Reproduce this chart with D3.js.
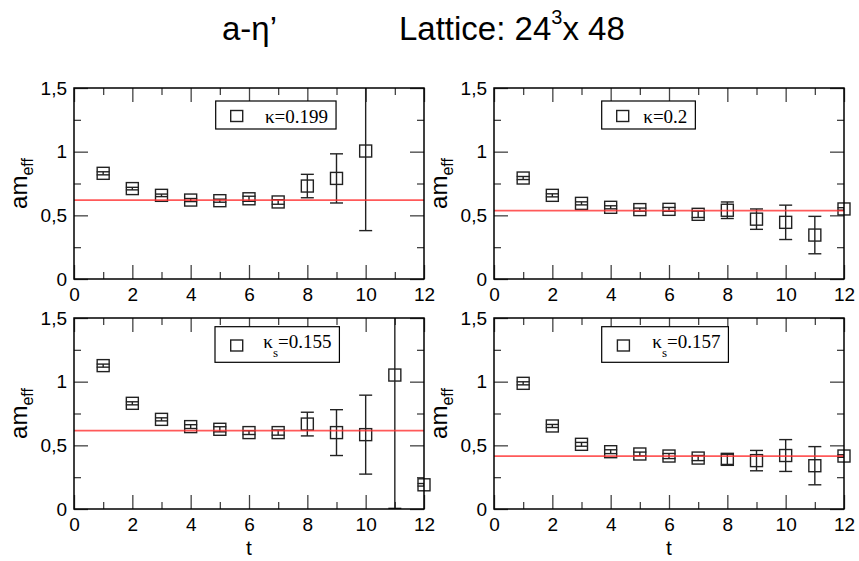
<!DOCTYPE html>
<html>
<head>
<meta charset="utf-8">
<script src="https://cdn.jsdelivr.net/npm/d3@7"></script>
<style>
  body { margin: 0; background: #fff; }
  svg { display: block; }
  .tick text { font-family: "Liberation Sans", Arial, sans-serif; font-size: 19px; fill: #000; }
  .tick line { stroke: #444; stroke-width: 1.3; }
</style>
</head>
<body>
<div id="chart"></div>
<script>
// effective mass vs t, four kappa values
const tValues = [1, 2, 3, 4, 5, 6, 7, 8, 9, 10, 11, 12];

const mK199 = [0.83, 0.71, 0.657, 0.62, 0.615, 0.63, 0.605, 0.73, 0.79, 1.005];
const eK199 = [0.012, 0.01, 0.01, 0.012, 0.012, 0.02, 0.018, 0.092, 0.193, 0.625];

const mK200 = [0.793, 0.657, 0.594, 0.563, 0.545, 0.547, 0.508, 0.54, 0.47, 0.445, 0.345, 0.55];
const eK200 = [0.012, 0.012, 0.012, 0.012, 0.012, 0.015, 0.025, 0.065, 0.08, 0.135, 0.147, 0.01];

const mKs155 = [1.126, 0.83, 0.704, 0.647, 0.626, 0.6, 0.6, 0.667, 0.6, 0.584, 1.052, 0.19];
const eKs155 = [0.012, 0.012, 0.012, 0.015, 0.02, 0.015, 0.02, 0.093, 0.18, 0.31, 1.047, 0.01];

const mKs157 = [0.987, 0.652, 0.508, 0.45, 0.432, 0.416, 0.4, 0.39, 0.38, 0.42, 0.34, 0.416];
const eKs157 = [0.012, 0.012, 0.015, 0.015, 0.015, 0.02, 0.02, 0.04, 0.08, 0.125, 0.15, 0.01];

const fitValues = [0.62, 0.537, 0.615, 0.416];
const legendKappa = ["κ", "κ", "κ", "κ"];
const legendSub = ["", "", "s", "s"];
const legendValue = ["=0.199", "=0.2", "=0.155", "=0.157"];

const xMajor = [0, 2, 4, 6, 8, 10, 12];
const xMinor = [1, 3, 5, 7, 9, 11];
const yMajor = [0, 0.5, 1, 1.5];
const yMinor = [0.25, 0.75, 1.25];

const W = 859, H = 561;
const plotW = 350, plotH = 191;

const panels = [
  { m: mK199, e: eK199, left: 74, top: 88, showT: false, box: [141.7, 13, 28], sym: 21, txt: 191 },
  { m: mK200, e: eK200, left: 494, top: 88, showT: false, box: [107.7, 13, 28], sym: 21, txt: 149.3 },
  { m: mKs155, e: eKs155, left: 74, top: 318, showT: true, box: [141, 8.7, 35.6], sym: 21.7, txt: 189.3 },
  { m: mKs157, e: eKs157, left: 494, top: 318, showT: true, box: [107.7, 8.7, 35.6], sym: 21.7, txt: 158.3 }
];

const svg = d3.select("#chart").append("svg")
  .attr("width", W)
  .attr("height", H);

// title
const title = svg.append("g")
  .style("font-family", "'Liberation Sans', Arial, sans-serif")
  .style("font-size", "33px");
title.append("text").attr("x", 222).attr("y", 40).text("a-η’");
const lat = title.append("text").attr("x", 399).attr("y", 40);
lat.append("tspan").text("Lattice: 24");
lat.append("tspan").attr("dy", -16).style("font-size", "20px").text("3");
lat.append("tspan").attr("dy", 16).text("x 48");

const x = d3.scaleLinear().domain([0, 12]).range([0, plotW]);
const y = d3.scaleLinear().domain([0, 1.5]).range([plotH, 0]);
const fmtY = d => String(d).replace(".", ",");

panels.forEach((p, i) => {
  const g = svg.append("g").attr("transform", `translate(${p.left},${p.top})`);
  const data = p.m.map((v, k) => ({ t: tValues[k], v: v, e: p.e[k] }));

  g.append("clipPath").attr("id", "clip" + i)
    .append("rect").attr("width", plotW).attr("height", plotH);

  // axes: ticks point inward on all four sides
  const addAxis = (axis, transform) => {
    const a = g.append("g").attr("transform", transform).call(axis);
    a.select(".domain").remove();
    return a;
  };
  addAxis(d3.axisBottom(x).tickValues(xMajor).tickSizeInner(-14).tickSizeOuter(0).tickPadding(9).tickFormat(d3.format("d")), `translate(0,${plotH})`);
  addAxis(d3.axisBottom(x).tickValues(xMinor).tickSizeInner(-7).tickSizeOuter(0).tickFormat(""), `translate(0,${plotH})`);
  addAxis(d3.axisTop(x).tickValues(xMajor).tickSizeInner(-14).tickSizeOuter(0).tickFormat(""), "translate(0,0)");
  addAxis(d3.axisTop(x).tickValues(xMinor).tickSizeInner(-7).tickSizeOuter(0).tickFormat(""), "translate(0,0)");
  addAxis(d3.axisLeft(y).tickValues(yMajor).tickSizeInner(-14).tickSizeOuter(0).tickPadding(7).tickFormat(fmtY), "translate(0,0)");
  addAxis(d3.axisLeft(y).tickValues(yMinor).tickSizeInner(-7).tickSizeOuter(0).tickFormat(""), "translate(0,0)");
  addAxis(d3.axisRight(y).tickValues(yMajor).tickSizeInner(-14).tickSizeOuter(0).tickFormat(""), `translate(${plotW},0)`);
  addAxis(d3.axisRight(y).tickValues(yMinor).tickSizeInner(-7).tickSizeOuter(0).tickFormat(""), `translate(${plotW},0)`);

  // error bars (clipped to plot area)
  const eb = g.append("g").attr("clip-path", `url(#clip${i})`)
    .attr("stroke", "#222").attr("stroke-width", 1.4).attr("fill", "none");
  eb.selectAll(".bar").data(data).join("line")
    .attr("x1", d => x(d.t)).attr("x2", d => x(d.t))
    .attr("y1", d => y(d.v - d.e)).attr("y2", d => y(d.v + d.e));
  eb.selectAll(".capHi").data(data).join("line")
    .attr("x1", d => x(d.t) - 6.5).attr("x2", d => x(d.t) + 6.5)
    .attr("y1", d => y(d.v + d.e)).attr("y2", d => y(d.v + d.e));
  eb.selectAll(".capLo").data(data).join("line")
    .attr("x1", d => x(d.t) - 6.5).attr("x2", d => x(d.t) + 6.5)
    .attr("y1", d => y(d.v - d.e)).attr("y2", d => y(d.v - d.e));

  // square symbols
  g.append("g").selectAll("rect").data(data).join("rect")
    .attr("x", d => x(d.t) - 6).attr("y", d => y(d.v) - 6)
    .attr("width", 12).attr("height", 12)
    .attr("fill", "none").attr("stroke", "#222").attr("stroke-width", 1.4);

  // fit plateau
  g.append("line")
    .attr("x1", x(0)).attr("x2", x(12))
    .attr("y1", y(fitValues[i])).attr("y2", y(fitValues[i]))
    .attr("stroke", "#ff3030").attr("stroke-opacity", 0.8).attr("stroke-width", 1.8);

  // frame
  g.append("rect").attr("width", plotW).attr("height", plotH)
    .attr("fill", "none").attr("stroke", "#000").attr("stroke-width", 1.5);

  // y label
  const yl = g.append("text")
    .attr("transform", `translate(-47,${plotH / 2}) rotate(-90)`)
    .attr("text-anchor", "middle")
    .style("font-family", "'Liberation Sans', Arial, sans-serif")
    .style("font-size", "24px");
  yl.append("tspan").text("am");
  yl.append("tspan").attr("dy", 6).style("font-size", "16px").text("eff");

  if (p.showT) {
    g.append("text").attr("x", plotW / 2).attr("y", plotH + 46)
      .attr("text-anchor", "middle")
      .style("font-family", "'Liberation Sans', Arial, sans-serif")
      .style("font-size", "21px").text("t");
  }

  // legend
  const [bx, by, bh] = p.box;
  const lg = g.append("g");
  const box = lg.append("rect").attr("x", bx).attr("y", by).attr("height", bh)
    .attr("fill", "#fff").attr("stroke", "#000").attr("stroke-width", 1.2);
  lg.append("rect").attr("x", bx + p.sym - 6).attr("y", by + bh / 2 - 4.5)
    .attr("width", 12).attr("height", 11)
    .attr("fill", "none").attr("stroke", "#222").attr("stroke-width", 1.4);
  const lt = lg.append("text").attr("x", p.txt).attr("y", by + 21.5)
    .style("font-family", "'Liberation Serif', 'Times New Roman', serif")
    .style("font-size", "19px");
  lt.append("tspan").text(legendKappa[i]);
  if (legendSub[i]) {
    lt.append("tspan").attr("dy", 9).style("font-size", "13px").text(legendSub[i]);
    lt.append("tspan").attr("dy", -9).text(legendValue[i]);
  } else {
    lt.append("tspan").text(legendValue[i]);
  }
  const bb = lt.node().getBBox();
  box.attr("width", bb.x + bb.width + 8 - bx);
});
</script>
</body>
</html>
